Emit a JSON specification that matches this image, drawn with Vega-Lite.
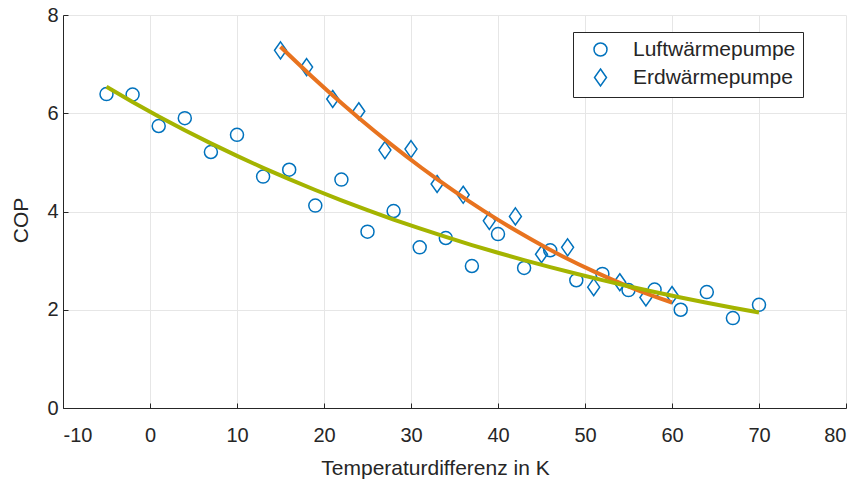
{
  "$schema": "https://vega.github.io/schema/vega-lite/v6.json",
  "width": 783,
  "height": 393,
  "autosize": {"type": "none"},
  "padding": {"left": 63, "top": 15, "right": 10, "bottom": 71},
  "background": "white",
  "config": {
    "view": {"stroke": null},
    "font": "Liberation Sans",
    "axis": {
      "domainColor": "#262626",
      "domainWidth": 1,
      "tickColor": "#262626",
      "tickSize": -5,
      "tickWidth": 1,
      "gridColor": "#E6E6E6",
      "gridWidth": 1,
      "labelFont": "Liberation Sans",
      "labelFontSize": 20,
      "labelColor": "#262626",
      "labelExpr": "'' + datum.value",
      "titleFont": "Liberation Sans",
      "titleFontSize": 21,
      "titleFontWeight": "normal",
      "titleColor": "#262626"
    }
  },
  "data": {
    "values": [
      {"dT": -5, "COP": 6.39, "Typ": "Luftwärmepumpe"},
      {"dT": -2, "COP": 6.38, "Typ": "Luftwärmepumpe"},
      {"dT": 1, "COP": 5.74, "Typ": "Luftwärmepumpe"},
      {"dT": 4, "COP": 5.9, "Typ": "Luftwärmepumpe"},
      {"dT": 7, "COP": 5.21, "Typ": "Luftwärmepumpe"},
      {"dT": 10, "COP": 5.56, "Typ": "Luftwärmepumpe"},
      {"dT": 13, "COP": 4.71, "Typ": "Luftwärmepumpe"},
      {"dT": 16, "COP": 4.85, "Typ": "Luftwärmepumpe"},
      {"dT": 19, "COP": 4.12, "Typ": "Luftwärmepumpe"},
      {"dT": 22, "COP": 4.65, "Typ": "Luftwärmepumpe"},
      {"dT": 25, "COP": 3.59, "Typ": "Luftwärmepumpe"},
      {"dT": 28, "COP": 4.01, "Typ": "Luftwärmepumpe"},
      {"dT": 31, "COP": 3.27, "Typ": "Luftwärmepumpe"},
      {"dT": 34, "COP": 3.46, "Typ": "Luftwärmepumpe"},
      {"dT": 37, "COP": 2.89, "Typ": "Luftwärmepumpe"},
      {"dT": 40, "COP": 3.54, "Typ": "Luftwärmepumpe"},
      {"dT": 43, "COP": 2.85, "Typ": "Luftwärmepumpe"},
      {"dT": 46, "COP": 3.21, "Typ": "Luftwärmepumpe"},
      {"dT": 49, "COP": 2.6, "Typ": "Luftwärmepumpe"},
      {"dT": 52, "COP": 2.73, "Typ": "Luftwärmepumpe"},
      {"dT": 55, "COP": 2.4, "Typ": "Luftwärmepumpe"},
      {"dT": 58, "COP": 2.41, "Typ": "Luftwärmepumpe"},
      {"dT": 61, "COP": 2.0, "Typ": "Luftwärmepumpe"},
      {"dT": 64, "COP": 2.36, "Typ": "Luftwärmepumpe"},
      {"dT": 67, "COP": 1.83, "Typ": "Luftwärmepumpe"},
      {"dT": 70, "COP": 2.1, "Typ": "Luftwärmepumpe"},
      {"dT": 15, "COP": 7.28, "Typ": "Erdwärmepumpe"},
      {"dT": 18, "COP": 6.94, "Typ": "Erdwärmepumpe"},
      {"dT": 21, "COP": 6.29, "Typ": "Erdwärmepumpe"},
      {"dT": 24, "COP": 6.04, "Typ": "Erdwärmepumpe"},
      {"dT": 27, "COP": 5.25, "Typ": "Erdwärmepumpe"},
      {"dT": 30, "COP": 5.27, "Typ": "Erdwärmepumpe"},
      {"dT": 33, "COP": 4.56, "Typ": "Erdwärmepumpe"},
      {"dT": 36, "COP": 4.34, "Typ": "Erdwärmepumpe"},
      {"dT": 39, "COP": 3.81, "Typ": "Erdwärmepumpe"},
      {"dT": 42, "COP": 3.9, "Typ": "Erdwärmepumpe"},
      {"dT": 45, "COP": 3.13, "Typ": "Erdwärmepumpe"},
      {"dT": 48, "COP": 3.27, "Typ": "Erdwärmepumpe"},
      {"dT": 51, "COP": 2.46, "Typ": "Erdwärmepumpe"},
      {"dT": 54, "COP": 2.56, "Typ": "Erdwärmepumpe"},
      {"dT": 57, "COP": 2.25, "Typ": "Erdwärmepumpe"},
      {"dT": 60, "COP": 2.3, "Typ": "Erdwärmepumpe"}
    ]
  },
  "layer": [
    {
      "mark": {"type": "point", "filled": false, "stroke": "#0072BD", "strokeWidth": 1.5, "size": 169, "opacity": 1},
      "encoding": {
        "x": {
          "field": "dT", "type": "quantitative",
          "scale": {"domain": [-10, 80], "nice": false, "zero": false},
          "axis": {
            "values": [-10, 0, 10, 20, 30, 40, 50, 60, 70, 80],
            "title": "Temperaturdifferenz in K",
            "labelPadding": 22,
            "titleX": 372, "titleY": 66, "titleAlign": "center", "titleBaseline": "alphabetic", "titleAnchor": null
          }
        },
        "y": {
          "field": "COP", "type": "quantitative",
          "scale": {"domain": [0, 8], "nice": false},
          "axis": {
            "values": [0, 2, 4, 6, 8],
            "title": "COP",
            "labelPadding": 10,
            "titleAngle": 270, "titleX": -36, "titleY": 205, "titleAlign": "center", "titleBaseline": "alphabetic", "titleAnchor": null
          }
        },
        "shape": {
          "field": "Typ", "type": "nominal",
          "scale": {"domain": ["Luftwärmepumpe", "Erdwärmepumpe"], "range": ["circle", "M0,-1.31L0.92,0L0,1.31L-0.92,0Z"]},
          "legend": {
            "title": null,
            "orient": "none",
            "legendX": 510,
            "legendY": 17,
            "strokeColor": "#262626",
            "fillColor": "white",
            "padding": 7,
            "labelFont": "Liberation Sans",
            "labelFontSize": 21,
            "labelColor": "#262626",
            "labelLimit": 400,
            "labelExpr": "datum.label + '\u00a0\u00a0\u00a0\u00a0'",
            "symbolSize": 169,
            "symbolStrokeColor": "#0072BD",
            "symbolFillColor": "transparent",
            "symbolStrokeWidth": 1.5,
            "symbolOffset": 10,
            "labelOffset": 22,
            "rowPadding": 5
          }
        }
      }
    },
    {
      "transform": [
        {"filter": "datum.Typ === 'Erdwärmepumpe'"},
        {"regression": "COP", "on": "dT", "method": "quad"}
      ],
      "mark": {"type": "line", "color": "#E8731F", "strokeWidth": 4},
      "encoding": {
        "x": {"field": "dT", "type": "quantitative"},
        "y": {"field": "COP", "type": "quantitative"}
      }
    },
    {
      "transform": [
        {"filter": "datum.Typ === 'Luftwärmepumpe'"},
        {"regression": "COP", "on": "dT", "method": "exp"}
      ],
      "mark": {"type": "line", "color": "#A4B400", "strokeWidth": 4},
      "encoding": {
        "x": {"field": "dT", "type": "quantitative"},
        "y": {"field": "COP", "type": "quantitative"}
      }
    }
  ]
}
